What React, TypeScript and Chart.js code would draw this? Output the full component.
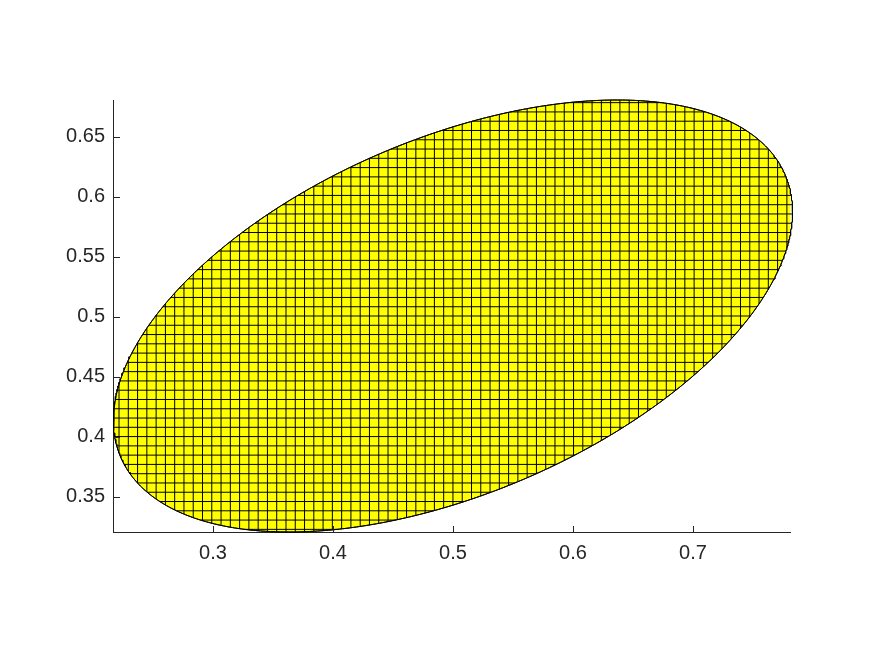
import React, { useEffect, useRef } from 'react';
import { Chart, registerables } from 'chart.js';

Chart.register(...registerables);

// Axis ticks and limits
const xTicks = [0.3, 0.4, 0.5, 0.6, 0.7];
const xTickLabels = ['0.3', '0.4', '0.5', '0.6', '0.7'];
const yTicks = [0.35, 0.4, 0.45, 0.5, 0.55, 0.6, 0.65];
const yTickLabels = ['0.35', '0.4', '0.45', '0.5', '0.55', '0.6', '0.65'];
const xLimits = [0.2167, 0.7813];
const yLimits = [0.3208, 0.6808];

// Ellipse: centre, half extents, x-offset of the top point
const ellipseCenter = [0.5, 0.5008];
const ellipseHalfExtent = [0.283, 0.18];
const ellipseTopXOffset = [0.1367];
// Mesh spacing of the hatched grid
const meshStep = [0.00773];

const AXIS_COLOR = '#262626';
const FONT = { family: '"Liberation Sans", Arial, Helvetica, sans-serif', size: 20 };

function buildEllipse() {
  const [cx, cy] = ellipseCenter;
  const [ax, ay] = ellipseHalfExtent;
  const sxy = ellipseTopXOffset[0] * ay;
  const k = sxy / ax;
  const h = Math.sqrt(ay * ay - k * k);
  const pts: { x: number; y: number }[] = [];
  const n = 720;
  for (let i = 0; i <= n; i++) {
    const t = (i / n) * Math.PI * 2;
    pts.push({ x: cx + ax * Math.cos(t), y: cy + k * Math.cos(t) + h * Math.sin(t) });
  }
  return pts;
}

function buildVerticalMesh() {
  const [cx, cy] = ellipseCenter;
  const [ax, ay] = ellipseHalfExtent;
  const sxy = ellipseTopXOffset[0] * ay;
  const k = sxy / ax;
  const h = Math.sqrt(ay * ay - k * k);
  const step = meshStep[0];
  const pts: { x: number; y: number | null }[] = [];
  const m = Math.ceil(ax / step);
  for (let i = -m; i <= m; i++) {
    const x = cx + i * step;
    const c = (x - cx) / ax;
    if (Math.abs(c) >= 1) continue;
    const s = Math.sqrt(1 - c * c);
    pts.push({ x, y: cy + k * c - h * s });
    pts.push({ x, y: cy + k * c + h * s });
    pts.push({ x, y: null });
  }
  return pts;
}

function buildHorizontalMesh() {
  const [cx, cy] = ellipseCenter;
  const [ax, ay] = ellipseHalfExtent;
  const off = ellipseTopXOffset[0];
  const slope = off / ay;
  const w = Math.sqrt(ax * ax - off * off);
  const step = meshStep[0];
  const pts: { x: number | null; y: number }[] = [];
  const m = Math.ceil(ay / step);
  for (let j = -m; j <= m; j++) {
    const y = cy + j * step;
    const d = (y - cy) / ay;
    if (Math.abs(d) >= 1) continue;
    const s = Math.sqrt(1 - d * d);
    pts.push({ x: cx + slope * (y - cy) - w * s, y });
    pts.push({ x: cx + slope * (y - cy) + w * s, y });
    pts.push({ x: null, y });
  }
  return pts;
}

const inwardTicks = {
  id: 'inwardTicks',
  afterDraw(chart: any) {
    const ctx = chart.ctx;
    const xs = chart.scales.x;
    const ys = chart.scales.y;
    const len = 6.5;
    ctx.save();
    ctx.strokeStyle = AXIS_COLOR;
    ctx.lineWidth = 1;
    ctx.beginPath();
    const bottom = Math.round(chart.chartArea.bottom) + 0.5;
    const left = Math.round(chart.chartArea.left) + 0.5;
    xs.ticks.forEach((t: any) => {
      const px = Math.round(xs.getPixelForValue(t.value)) + 0.5;
      ctx.moveTo(px, bottom);
      ctx.lineTo(px, bottom - len);
    });
    ys.ticks.forEach((t: any) => {
      const py = Math.round(ys.getPixelForValue(t.value)) + 0.5;
      ctx.moveTo(left, py);
      ctx.lineTo(left + len, py);
    });
    ctx.stroke();
    ctx.restore();
  },
};

export default function App() {
  const ref = useRef<HTMLCanvasElement | null>(null);
  useEffect(() => {
    if (!ref.current) return;
    const chart = new Chart(ref.current, {
      type: 'scatter',
      data: {
        datasets: [
          {
            label: 'ellipse',
            data: buildEllipse(),
            showLine: true,
            pointRadius: 0,
            borderColor: '#000000',
            borderWidth: 1,
            backgroundColor: '#ffff00',
            fill: 'shape',
            order: 3,
            clip: false,
          } as any,
          {
            label: 'meshV',
            data: buildVerticalMesh(),
            showLine: true,
            spanGaps: false,
            pointRadius: 0,
            borderColor: '#000000',
            borderWidth: 1,
            fill: false,
            order: 2,
            clip: false,
          } as any,
          {
            label: 'meshH',
            data: buildHorizontalMesh(),
            showLine: true,
            spanGaps: false,
            pointRadius: 0,
            borderColor: '#000000',
            borderWidth: 1,
            fill: false,
            order: 1,
            clip: false,
          } as any,
          {
            label: 'outline',
            data: buildEllipse(),
            showLine: true,
            pointRadius: 0,
            borderColor: '#000000',
            borderWidth: 1,
            fill: false,
            order: 0,
            clip: false,
          } as any,
        ],
      },
      options: {
        animation: false,
        responsive: false,
        devicePixelRatio: 1,
        events: [],
        layout: { padding: { top: 100, right: 84.5, left: 0, bottom: 0 } },
        plugins: {
          legend: { display: false },
          tooltip: { enabled: false },
          title: { display: false },
        },
        scales: {
          x: {
            type: 'linear',
            min: xLimits[0],
            max: xLimits[1],
            grid: { display: false, drawOnChartArea: false, drawTicks: false },
            border: { display: true, color: AXIS_COLOR, width: 1 },
            afterBuildTicks: (s: any) => {
              s.ticks = xTicks.map((v) => ({ value: v }));
            },
            afterFit: (s: any) => {
              s.height = 656 - 532;
            },
            ticks: {
              color: AXIS_COLOR,
              font: FONT,
              padding: 9,
              maxRotation: 0,
              autoSkip: false,
              callback: (_v: any, i: number) => xTickLabels[i],
            },
          },
          y: {
            type: 'linear',
            min: yLimits[0],
            max: yLimits[1],
            grid: { display: false, drawOnChartArea: false, drawTicks: false },
            border: { display: true, color: AXIS_COLOR, width: 1 },
            afterBuildTicks: (s: any) => {
              s.ticks = yTicks.map((v) => ({ value: v }));
            },
            afterFit: (s: any) => {
              s.width = 113;
            },
            ticks: {
              color: AXIS_COLOR,
              font: FONT,
              padding: 8,
              autoSkip: false,
              callback: (_v: any, i: number) => yTickLabels[i],
            },
          },
        },
      } as any,
      plugins: [inwardTicks],
    });
    return () => chart.destroy();
  }, []);
  return (
    <div style={{ position: 'absolute', left: 0, top: 0, width: 875, height: 656, background: '#ffffff' }}>
      <canvas ref={ref} width={875} height={656} style={{ width: 875, height: 656, display: 'block' }} />
    </div>
  );
}
